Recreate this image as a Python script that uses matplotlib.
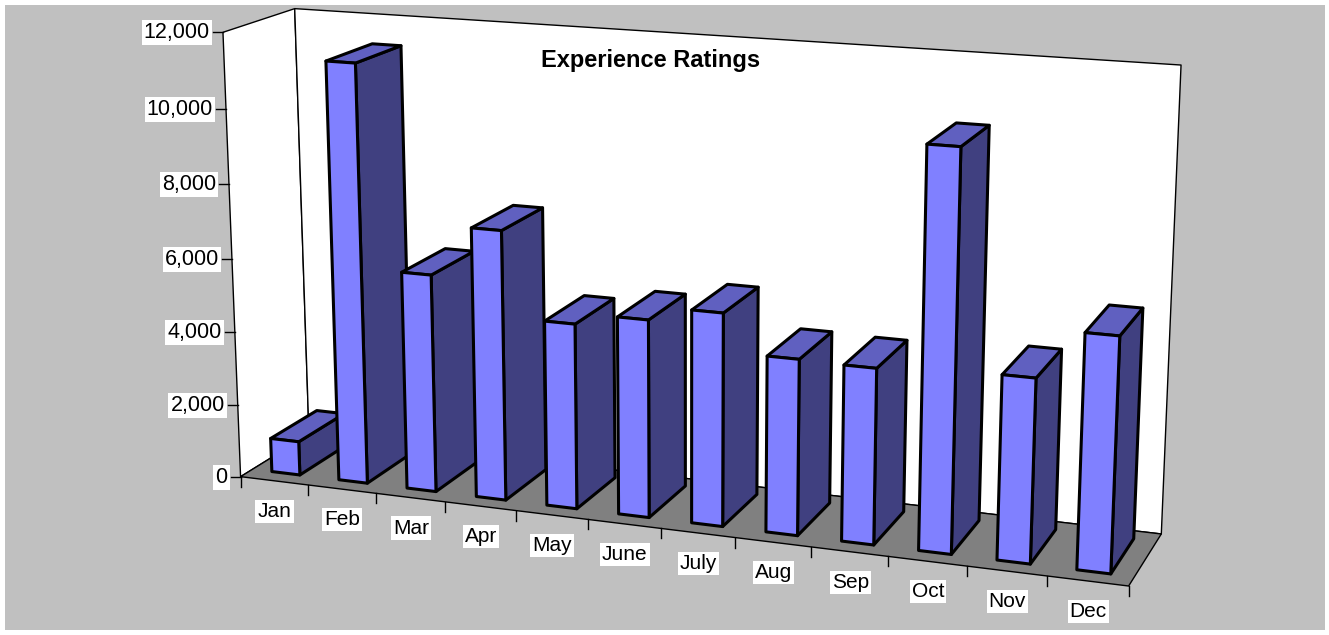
import numpy as np
import matplotlib
matplotlib.use("Agg")
import matplotlib.pyplot as plt
from matplotlib.patches import Polygon, Rectangle

categories = ["Jan", "Feb", "Mar", "Apr", "May", "June", "July", "Aug", "Sep", "Oct", "Nov", "Dec"]
values = [930, 11300, 5880, 7230, 4950, 5250, 5620, 4620, 4590, 10300, 4750, 6000]
value_ticks = [0, 2000, 4000, 6000, 8000, 10000, 12000]
title = "Experience Ratings"

VMAX = 12000
N = len(categories)
# calibration of the 3D box: (category, value, depth) -> pixel
world = [(0, 0, 0), (N, 0, 0), (N, 0, 1), (0, 0, 1), (0, VMAX, 0), (0, VMAX, 1), (N, VMAX, 1)]
pix = [(240.5, 476), (1129, 586), (1161, 534), (309, 435), (222.7, 33), (295, 8), (1181, 65)]


def fit_camera(world, pix):
    rows, rhs = [], []
    for (a, b, c), (x, y) in zip(world, pix):
        b = b / VMAX
        rows.append([a, b, c, 1, 0, 0, 0, 0, -x * a, -x * b, -x * c])
        rhs.append(x)
        rows.append([0, 0, 0, 0, a, b, c, 1, -y * a, -y * b, -y * c])
        rhs.append(y)
    sol = np.linalg.lstsq(np.array(rows, float), np.array(rhs, float), rcond=None)[0]
    return np.append(sol, 1).reshape(3, 4)


CAM = fit_camera(world, pix)


def P(u, v, w):
    h = CAM @ np.array([u, v / VMAX, w, 1.0])
    return (h[0] / h[2], h[1] / h[2])


BG = "#C0C0C0"
FLOOR = "#808080"
FRONT = "#8080FF"
SIDE = "#404080"
TOP = "#6060C0"

plt.rcParams["font.family"] = ["Liberation Sans", "DejaVu Sans"]
fig = plt.figure(figsize=(13.29, 6.35), dpi=100, facecolor="white")
ax = fig.add_axes([0, 0, 1, 1])
ax.set_xlim(0, 1329)
ax.set_ylim(635, 0)
ax.axis("off")

ax.add_patch(Rectangle((5, 5), 1320, 625, fc=BG, ec="none", zorder=0))


def face(pts, fc, lw=0.0, ec="black", z=1):
    ax.add_patch(Polygon(pts, closed=True, fc=fc, ec=ec if lw else "none", lw=lw, joinstyle="round", zorder=z))


# walls and floor
face([P(0, 0, 0), P(0, VMAX, 0), P(0, VMAX, 1), P(0, 0, 1)], "white", 1.0)
face([P(0, 0, 1), P(0, VMAX, 1), P(N, VMAX, 1), P(N, 0, 1)], "white", 1.0)
face([P(0, 0, 0), P(N, 0, 0), P(N, 0, 1), P(0, 0, 1)], FLOOR, 1.0)

# ticks
for v in value_ticks:
    x, y = P(0, v, 0)
    ax.plot([x - 10, x], [y, y], color="black", lw=1.0, zorder=2)
    ax.text(x - 13, y + 0.5, f"{v:,}", ha="right", va="center", fontsize=15.5,
            bbox=dict(fc="white", ec="none", pad=1.5), zorder=3)
for i in range(N + 1):
    x, y = P(i, 0, 0)
    ax.plot([x, x], [y, y + 10], color="black", lw=1.0, zorder=2)
for i, c in enumerate(categories):
    x, y = P(i + 0.5, 0, 0)
    ax.text(x + 0.5, y + 30.5, c, ha="center", va="center", fontsize=15,
            bbox=dict(fc="white", ec="none", pad=1.5), zorder=3)

ax.text(651, 60, title, ha="center", va="center", fontsize=17, fontweight="bold", zorder=2)

# bars, left to right so that each bar hides the side of the previous one
U0, U1, W0, W1 = 0.29, 0.71, 0.17, 0.85
LW = 2.2
for i, v in enumerate(values):
    z = 5 + i
    a, b = i + U0, i + U1
    face([P(b, 0, W0), P(b, v, W0), P(b, v, W1), P(b, 0, W1)], SIDE, LW, z=z)
    face([P(a, v, W0), P(b, v, W0), P(b, v, W1), P(a, v, W1)], TOP, LW, z=z)
    face([P(a, 0, W0), P(b, 0, W0), P(b, v, W0), P(a, v, W0)], FRONT, LW, z=z)

fig.savefig("out.png", dpi=100, facecolor="white")
